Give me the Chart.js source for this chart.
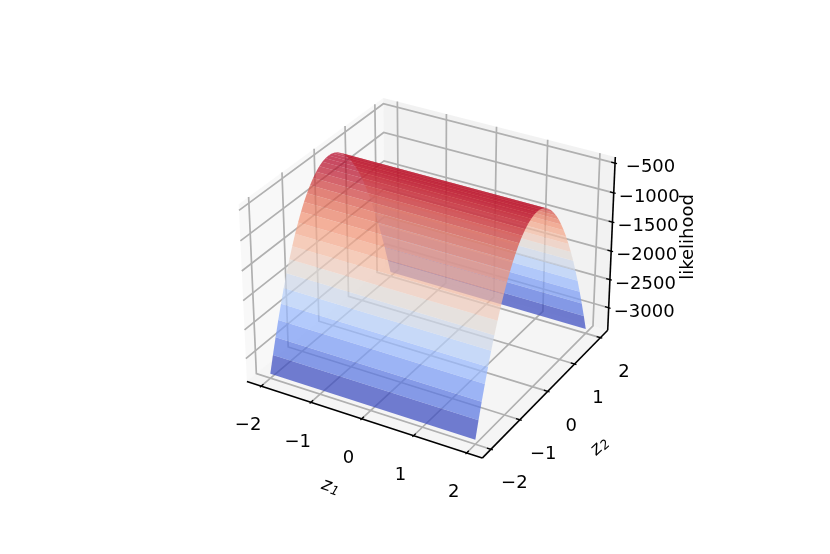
<!DOCTYPE html>
<html>
<head>
<meta charset="utf-8">
<style>
  html, body { margin: 0; padding: 0; background: #fff; }
  /* the reference is a slightly soft, rescaled image */
  canvas { display: block; filter: blur(0.45px); }
</style>
<script src="https://cdn.jsdelivr.net/npm/chart.js@4/dist/chart.umd.min.js"></script>
</head>
<body>
<canvas id="chart" width="830" height="554"></canvas>
<script>
// grid of the surface
const gridZ1 = [-2, 2];
const gridZ2 = [-2, -1.9, -1.8, -1.7, -1.6, -1.5, -1.4, -1.3, -1.2, -1.1,
    -1, -0.9, -0.8, -0.7, -0.6, -0.5, -0.4, -0.3, -0.2, -0.1, 0,
    0.1, 0.2, 0.3, 0.4, 0.5, 0.6, 0.7, 0.8, 0.9, 1,
    1.1, 1.2, 1.3, 1.4, 1.5, 1.6, 1.7, 1.8, 1.9, 2];
// likelihood for each z2 row (the surface does not change along z1)
const likelihood = [-3325, -3044, -2778, -2526, -2288, -2065, -1856, -1662, -1482, -1316,
    -1165, -1028, -906, -798, -704, -625, -560, -510, -474, -452, -445,
    -452, -474, -510, -560, -625, -704, -798, -906, -1028, -1165,
    -1316, -1482, -1662, -1856, -2065, -2288, -2526, -2778, -3044, -3325];

const z1Ticks = [-2, -1, 0, 1, 2];
const z2Ticks = [-2, -1, 0, 1, 2];
const likelihoodTicks = [-500, -1000, -1500, -2000, -2500, -3000];
const z1Labels = ['−2', '−1', '0', '1', '2'];
const z2Labels = ['−2', '−1', '0', '1', '2'];
const likelihoodLabels = ['−500', '−1000', '−1500', '−2000', '−2500', '−3000'];

const z1Lim = [-2.29, 2.29];
const z2Lim = [-2.29, 2.29];
const zLim = [-3404, -400];

// coolwarm colormap, every 1/8
const coolwarm = [
    [0.2298, 0.2987, 0.7537], [0.3830, 0.5094, 0.9174], [0.5530, 0.6889, 0.9954],
    [0.7222, 0.8140, 0.9766], [0.8654, 0.8654, 0.8654], [0.9589, 0.7698, 0.6780],
    [0.9580, 0.6028, 0.4818], [0.8692, 0.3783, 0.3003], [0.7057, 0.0156, 0.1502]
];

function cmap(t) {
    const p = Math.min(Math.max(t, 0), 1) * (coolwarm.length - 1);
    const i = Math.min(Math.floor(p), coolwarm.length - 2);
    const f = p - i;
    return coolwarm[i].map((c, k) => Math.round((c + (coolwarm[i + 1][k] - c) * f) * 255));
}

// same camera as mplot3d: elev 30, azim -60, dist 10, box aspect 4:4:3
const BOX = [1.1428, 1.1428, 0.8571];
const U = [0.8660, 0.5, 0];
const V = [-0.25, 0.4330, 0.8660];
const W = [0.4330, -0.75, 0.5];
const DIST = 10;

function project(a, b, c) {
    const p = [
        ((a - z1Lim[0]) / (z1Lim[1] - z1Lim[0]) - 0.5) * BOX[0],
        ((b - z2Lim[0]) / (z2Lim[1] - z2Lim[0]) - 0.5) * BOX[1],
        ((c - zLim[0]) / (zLim[1] - zLim[0]) - 0.5) * BOX[2]
    ];
    const dot = (n) => n[0] * p[0] + n[1] * p[1] + n[2] * p[2];
    const depth = DIST - dot(W);
    return { x: dot(U) / depth, y: dot(V) / depth, depth: depth };
}

const drawList = [];

function addPolygon(corners, color) {
    const pts = corners.map(c => project(c[0], c[1], c[2]));
    pts.push(pts[0]);
    drawList.push({
        data: pts.map(p => ({ x: p.x, y: p.y })),
        showLine: true,
        fill: 'shape',
        backgroundColor: color,
        borderWidth: 0,
        pointRadius: 0
    });
}

function addLine(corners, color, width) {
    drawList.push({
        data: corners.map(c => {
            const p = project(c[0], c[1], c[2]);
            return { x: p.x, y: p.y };
        }),
        showLine: true,
        fill: false,
        borderColor: color,
        borderWidth: width,
        pointRadius: 0
    });
}

const [x0, x1] = z1Lim;
const [y0, y1] = z2Lim;
const [h0, h1] = zLim;

// panes
addPolygon([[x0, y0, h0], [x0, y1, h0], [x0, y1, h1], [x0, y0, h1]], 'rgba(242,242,242,0.5)');
addPolygon([[x0, y1, h0], [x1, y1, h0], [x1, y1, h1], [x0, y1, h1]], 'rgba(230,230,230,0.5)');
addPolygon([[x0, y0, h0], [x1, y0, h0], [x1, y1, h0], [x0, y1, h0]], 'rgba(236,236,236,0.5)');

// grid lines
const GRID = '#b0b0b0';
z1Ticks.forEach(t => addLine([[t, y0, h0], [t, y1, h0], [t, y1, h1]], GRID, 1.7));
z2Ticks.forEach(t => addLine([[x1, t, h0], [x0, t, h0], [x0, t, h1]], GRID, 1.7));
likelihoodTicks.forEach(t => addLine([[x0, y0, t], [x0, y1, t], [x1, y1, t]], GRID, 1.7));

// axis lines and tick marks
addLine([[x0, y0, h0], [x1, y0, h0]], '#000', 1.6);
addLine([[x1, y0, h0], [x1, y1, h0]], '#000', 1.6);
addLine([[x1, y1, h0], [x1, y1, h1]], '#000', 1.6);
z1Ticks.forEach(t => addLine([[t, y0 + 0.073, h0], [t, y0 - 0.037, h0]], '#000', 1.3));
z2Ticks.forEach(t => addLine([[x1 - 0.073, t, h0], [x1 + 0.037, t, h0]], '#000', 1.3));
likelihoodTicks.forEach(t => addLine([[x1 - 0.073, y1, t], [x1 + 0.037, y1, t]], '#000', 1.3));

// surface rows, far ones first
const rowMeans = likelihood.slice(1).map((v, i) => (v + likelihood[i]) / 2);
const zMin = Math.min(...rowMeans);
const zMax = Math.max(...rowMeans);
const rows = rowMeans.map((mean, j) => {
    const corners = [
        [gridZ1[0], gridZ2[j], likelihood[j]],
        [gridZ1[1], gridZ2[j], likelihood[j]],
        [gridZ1[1], gridZ2[j + 1], likelihood[j + 1]],
        [gridZ1[0], gridZ2[j + 1], likelihood[j + 1]]
    ];
    const depth = corners.reduce((s, c) => s + project(c[0], c[1], c[2]).depth, 0) / 4;
    return { corners, depth, mean };
});
rows.sort((a, b) => b.depth - a.depth);
rows.forEach(r => {
    const rgb = cmap((r.mean - zMin) / (zMax - zMin));
    addPolygon(r.corners, `rgba(${rgb[0]},${rgb[1]},${rgb[2]},0.72)`);
});

// the library draws the lowest order on top
drawList.forEach((d, i) => { d.order = drawList.length - i; });

function mathLabel(ctx, px, py, angle, sub) {
    ctx.save();
    ctx.translate(px, py);
    ctx.rotate(angle);
    ctx.textAlign = 'left';
    ctx.font = 'italic 18px "DejaVu Sans"';
    ctx.fillText('z', -9, 0);
    ctx.font = 'italic 12.6px "DejaVu Sans"';
    ctx.fillText(sub, 1, 3);
    ctx.restore();
}

const textPlugin = {
    id: 'axisText',
    afterDatasetsDraw(chart) {
        const { ctx, scales } = chart;
        const at = (a, b, c) => {
            const p = project(a, b, c);
            return [scales.x.getPixelForValue(p.x), scales.y.getPixelForValue(p.y)];
        };
        ctx.save();
        ctx.fillStyle = '#000';
        ctx.font = '18px "DejaVu Sans"';
        ctx.textAlign = 'center';
        ctx.textBaseline = 'middle';
        z1Ticks.forEach((t, i) => {
            const [px, py] = at(t, y0, h0);
            ctx.fillText(z1Labels[i], px - 13, py + 39.5);
        });
        z2Ticks.forEach((t, i) => {
            const [px, py] = at(x1, t, h0);
            ctx.fillText(z2Labels[i], px + 23.5, py + 34.5);
        });
        likelihoodTicks.forEach((t, i) => {
            const [px, py] = at(x1, y1, t);
            ctx.fillText(likelihoodLabels[i], px + 35.5, py + 4.5);
        });
        const [lx, ly] = at(x1, y1, -1600);
        ctx.save();
        ctx.translate(lx + 76, ly + 9);
        ctx.rotate(-Math.PI / 2);
        ctx.fillText('likelihood', 0, 0);
        ctx.restore();
        const [ax, ay] = at(0, y0, h0);
        mathLabel(ctx, ax - 31, ay + 68, 0.33, '1');
        const [bx, by] = at(x1, 0, h0);
        mathLabel(ctx, bx + 52, by + 55, -0.75, '2');
        ctx.restore();
    }
};

new Chart(document.getElementById('chart').getContext('2d'), {
    type: 'scatter',
    data: { datasets: drawList },
    options: {
        responsive: false,
        animation: false,
        events: [],
        layout: { padding: 0 },
        elements: { line: { tension: 0 } },
        plugins: { legend: { display: false }, tooltip: { enabled: false }, title: { display: false } },
        scales: {
            x: { type: 'linear', display: false, min: -430.5 / 2360, max: 399.5 / 2360 },
            y: { type: 'linear', display: false, min: -284.3 / 2360, max: 269.7 / 2360 }
        }
    },
    plugins: [textPlugin]
});
</script>
</body>
</html>
